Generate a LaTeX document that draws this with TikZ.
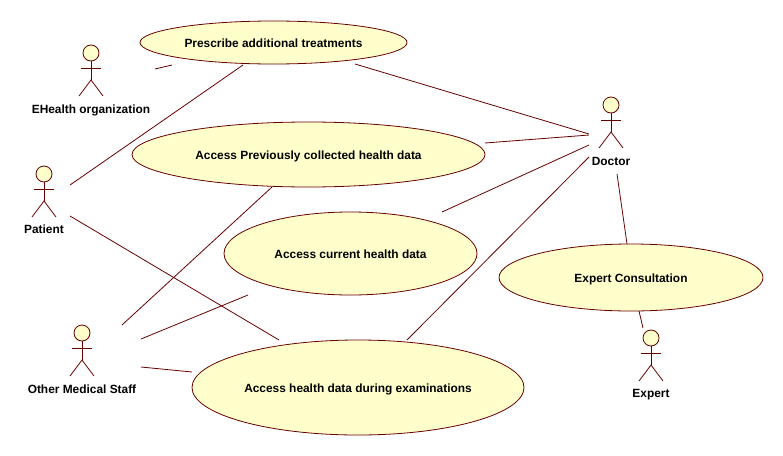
\documentclass[tikz,border=0pt]{standalone}
\usepackage{fontspec}
\setmainfont{Liberation Sans}
\usepackage{xcolor}
\usetikzlibrary{positioning}
\usetikzlibrary{shapes.geometric}
\definecolor{umlline}{HTML}{660000}
\definecolor{umlfill}{HTML}{FFFFCC}
\tikzset{
    usecase/.style={ellipse, draw=umlline, fill=umlfill, line width=0.8pt, inner sep=0pt, text height=11pt, text depth=2pt, font=\fontsize{11.9}{13}\selectfont\bfseries},
    actorname/.style={inner sep=0pt, text height=11pt, text depth=2pt, font=\fontsize{11.9}{13}\selectfont\bfseries},
    assoc/.style={draw=umlline, line width=0.8pt},
    actor/.pic={
        \node[circle, draw=umlline, fill=umlfill, line width=0.8pt, minimum size=16pt, inner sep=0pt] (-head) at (0,0) {};
        \draw[assoc] (-head.south) -- (0,27);
        \draw[assoc] (-10,15) -- (10,15);
        \draw[assoc] (-12,43) -- (0,27) -- (12,43);
    }
}

\begin{document}
\begin{tikzpicture}[x=1pt, y=-1pt]
    \useasboundingbox (0,0) rectangle (783,455);

    % use cases
    \node[usecase, minimum width=267pt, minimum height=43pt] (prescribe) at (273.5,42.5) {Prescribe additional treatments};
    \node[usecase, minimum width=353pt, minimum height=65pt] (previous) at (308.5,154.5) {Access Previously collected health data};
    \node[usecase, minimum width=253pt, minimum height=83pt] (current) at (350.5,253.5) {Access current health data};
    \node[usecase, minimum width=332pt, minimum height=95pt] (exam) at (358,387.5) {Access health data during examinations};
    \node[usecase, minimum width=264pt, minimum height=67pt] (consult) at (631,277.5) {Expert Consultation};

    % actors
    \pic (ehealth) at (91,53) {actor};
    \node[actorname] (ehealthname) at (91,109) {EHealth organization};
    \pic (patient) at (44,174) {actor};
    \node[actorname] (patientname) at (44,229) {Patient};
    \pic (other) at (82,333) {actor};
    \node[actorname] (othername) at (82,389) {Other Medical Staff};
    \pic (doctor) at (611,105) {actor};
    \node[actorname] (doctorname) at (611,161) {Doctor};
    \pic (expert) at (651,338) {actor};
    \node[actorname] (expertname) at (651,393) {Expert};

    % line ends, the lines stop short of the actors
    \foreach \name/\px/\py in {
        ehealthA/155/69, prescribeA/172/65,
        prescribeB/243/65, patientA/70/185,
        prescribeC/355/64, doctorA/589/134,
        previousA/485/143, doctorB/589/135,
        currentA/442/212, doctorC/589/145,
        examA/407/340, doctorD/589/157,
        doctorE/617/174, consultA/627/244,
        consultB/639/311, expertA/643/328,
        patientB/70/216, examB/279/340,
        previousB/272/187, otherA/122/325,
        currentB/248/295, otherB/141/339,
        examC/192/372, otherC/141/367}
        \coordinate (\name) at (\px,\py);

    % associations
    \draw[assoc] (ehealthA) -- (prescribeA);
    \draw[assoc] (prescribeB) -- (patientA);
    \draw[assoc] (prescribeC) -- (doctorA);
    \draw[assoc] (previousA) -- (doctorB);
    \draw[assoc] (currentA) -- (doctorC);
    \draw[assoc] (examA) -- (doctorD);
    \draw[assoc] (doctorE) -- (consultA);
    \draw[assoc] (consultB) -- (expertA);
    \draw[assoc] (patientB) -- (examB);
    \draw[assoc] (previousB) -- (otherA);
    \draw[assoc] (currentB) -- (otherB);
    \draw[assoc] (examC) -- (otherC);
\end{tikzpicture}
\end{document}
